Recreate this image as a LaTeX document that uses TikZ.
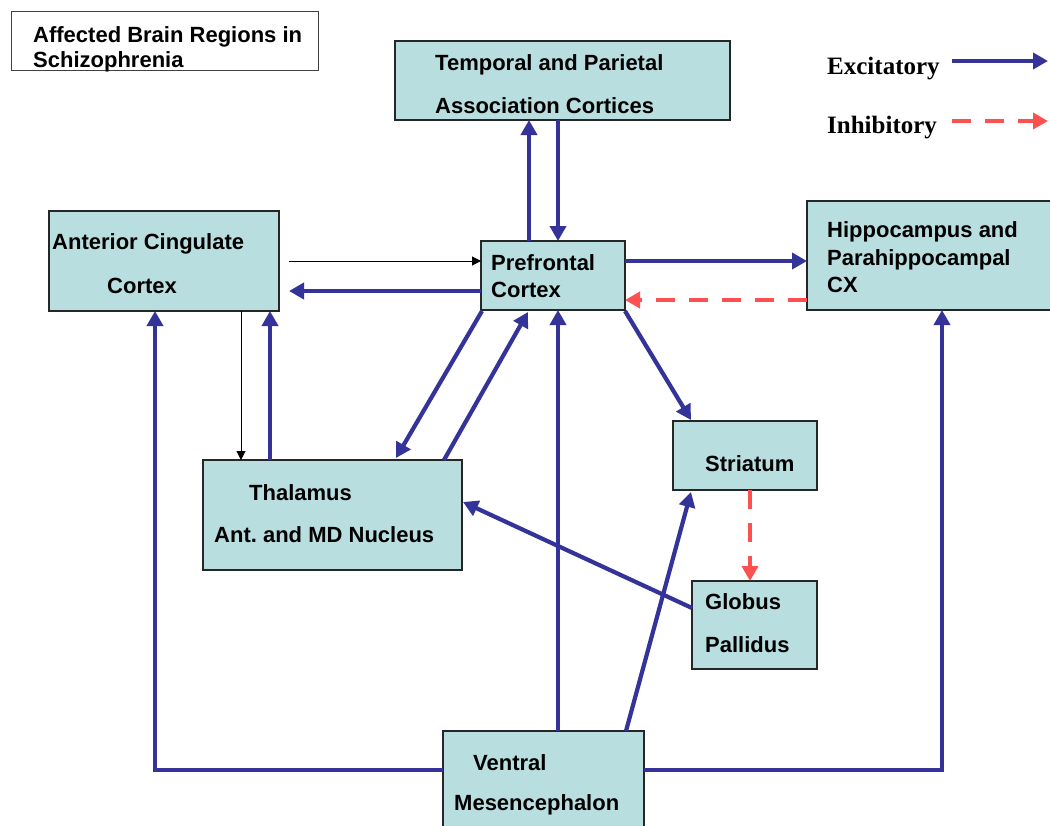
\documentclass[tikz,border=0pt]{standalone}
\usepackage{fontspec}
\newfontfamily\arialf{Liberation Sans}
\newfontfamily\tnrf{Liberation Serif}
\usetikzlibrary{arrows.meta,calc}
\definecolor{boxfill}{RGB}{185,222,224}
\definecolor{excblue}{RGB}{51,51,153}
\definecolor{inhred}{RGB}{255,80,80}
\tikzset{
  box/.style={draw=black!85, line width=1.3pt, fill=boxfill, anchor=north west, inner sep=0, outer sep=0},
  lbl/.style={anchor=base west, inner sep=0, font=\arialf\bfseries\fontsize{22}{26}\selectfont},
  leg/.style={anchor=base west, inner sep=0, font=\tnrf\bfseries\fontsize{25}{30}\selectfont},
  exc/.style={draw=excblue, line width=4.2pt, -{Triangle[length=15pt,width=16pt]}},
  inh/.style={draw=inhred, line width=4.2pt, dash pattern=on 19pt off 14pt, -{Triangle[length=15pt,width=16pt]}},
  thin/.style={draw=black, line width=1pt, -{Triangle[length=9pt,width=9pt]}}
}
\begin{document}
\begin{tikzpicture}[x=1pt,y=-1pt]
\useasboundingbox (0,0) rectangle (1050,825);
\clip (0,0) rectangle (1050,825);
\fill[white] (0,0) rectangle (1050,825);

% boxes
\node[draw=black!75, line width=1pt, fill=white, anchor=north west, inner sep=0, outer sep=0, minimum width=307pt, minimum height=59pt] (title) at (11,11) {};
\node[box, minimum width=335pt, minimum height=79pt] (tpc) at (395,41) {};
\node[box, minimum width=230pt, minimum height=100pt] (acc) at (49,211) {};
\node[box, minimum width=144pt, minimum height=69pt] (pfc) at (481,241) {};
\node[box, minimum width=250pt, minimum height=109pt] (hip) at (807,201) {};
\node[box, minimum width=144pt, minimum height=69pt] (str) at (673,421) {};
\node[box, minimum width=125pt, minimum height=88pt] (glo) at (692,581) {};
\node[box, minimum width=259pt, minimum height=110pt] (thal) at (203,460) {};
\node[box, minimum width=201pt, minimum height=110pt] (vm) at (443,731) {};

% texts
\node[lbl] (t1) at (33,42) {Affected Brain Regions in};
\node[lbl] (t2) at (33,67) {Schizophrenia};
\node[lbl] (tpc1) at (435,70) {Temporal and Parietal};
\node[lbl] (tpc2) at (435,113) {Association Cortices};
\node[lbl] (acc1) at (52,249) {Anterior Cingulate};
\node[lbl] (acc2) at (107,293) {Cortex};
\node[lbl] (pfc1) at (491,270) {Prefrontal};
\node[lbl] (pfc2) at (491,297) {Cortex};
\node[lbl] (hip1) at (827,237) {Hippocampus and};
\node[lbl] (hip2) at (827,265) {Parahippocampal};
\node[lbl] (hip3) at (827,292) {CX};
\node[lbl] (str1) at (705,471) {Striatum};
\node[lbl] (glo1) at (705,609) {Globus};
\node[lbl] (glo2) at (705,652) {Pallidus};
\node[lbl] (thal1) at (249,500) {Thalamus};
\node[lbl] (thal2) at (214,542) {Ant.\ and MD Nucleus};
\node[lbl] (vm1) at (473,770) {Ventral};
\node[lbl] (vm2) at (454,810) {Mesencephalon};

% legend
\node[leg] (lex) at (827,74) {Excitatory};
\node[leg] (lin) at (827,133) {Inhibitory};
\coordinate (exs) at (952,61);
\coordinate (exe) at (1048,61);
\coordinate (ins) at (952,121);
\coordinate (ine) at (1048,121);
\draw[exc] (exs) -- (exe);
\draw[inh] (ins) -- (ine);

% PFC <-> temporal/parietal
\coordinate (a1) at ($(pfc.north west)+(48,0)$);
\coordinate (a2) at ($(pfc.north west)+(77,0)$);
\draw[exc] (a1) -- (a1 |- tpc.south);
\draw[exc] (a2 |- tpc.south) -- (a2);

% ACC <-> PFC
\coordinate (b1) at ($(pfc.north west)+(0,20)$);
\coordinate (b1s) at ($(b1 -| acc.east)+(10,0)$);
\draw[thin] (b1s) -- (b1);
\coordinate (b2) at ($(pfc.north west)+(0,50)$);
\coordinate (b2s) at ($(b2 -| acc.east)+(10,0)$);
\draw[exc] (b2) -- (b2s);

% PFC <-> hippocampus
\coordinate (c1) at ($(pfc.north east)+(0,20)$);
\draw[exc] (c1) -- (c1 -| hip.west);
\coordinate (c2) at ($(pfc.north east)+(0,59)$);
\draw[inh] (c2 -| hip.west) -- (c2);

% ACC <-> thalamus
\coordinate (d1) at ($(acc.south west)+(192,0)$);
\draw[thin] (d1) -- (d1 |- thal.north);
\coordinate (d2) at ($(acc.south west)+(221,0)$);
\draw[exc] (d2 |- thal.north) -- (d2);

% PFC <-> thalamus
\coordinate (e1) at ($(pfc.south west)+(1,1)$);
\coordinate (e1t) at ($(thal.north west)+(193,-2)$);
\draw[exc] (e1) -- (e1t);
\coordinate (e2) at ($(thal.north west)+(241,0)$);
\coordinate (e2t) at ($(pfc.south west)+(47,2)$);
\draw[exc] (e2) -- (e2t);

% PFC -> striatum
\coordinate (f1) at ($(pfc.south east)+(0,1)$);
\coordinate (f1t) at ($(str.north west)+(18,-1)$);
\draw[exc] (f1) -- (f1t);

% striatum -> globus pallidus
\coordinate (g1) at ($(str.south west)+(77,0)$);
\draw[inh] (g1) -- (g1 |- glo.north);

% globus pallidus -> thalamus
\coordinate (h1) at ($(glo.north west)+(0,27)$);
\coordinate (h1t) at ($(thal.north east)+(1,42)$);
\draw[exc] (h1) -- (h1t);

% ventral mesencephalon outputs
\coordinate (i1) at ($(vm.north west)+(115,0)$);
\draw[exc] (i1) -- (i1 |- pfc.south);
\coordinate (i2) at ($(vm.north west)+(183,0)$);
\coordinate (i2t) at ($(str.south west)+(18,2)$);
\draw[exc] (i2) -- (i2t);
\coordinate (j1) at ($(vm.north west)+(0,39)$);
\coordinate (j1c) at ($(acc.south west)+(106,0)$);
\draw[draw=excblue, line width=4.2pt, -{Triangle[length=15pt,width=16pt]}] (j1) -- (j1 -| j1c) -- (j1c);
\coordinate (k1) at ($(vm.north east)+(0,39)$);
\coordinate (k1c) at ($(hip.south west)+(135,0)$);
\draw[exc] (k1) -- (k1 -| k1c) -- (k1c);
\end{tikzpicture}
\end{document}
